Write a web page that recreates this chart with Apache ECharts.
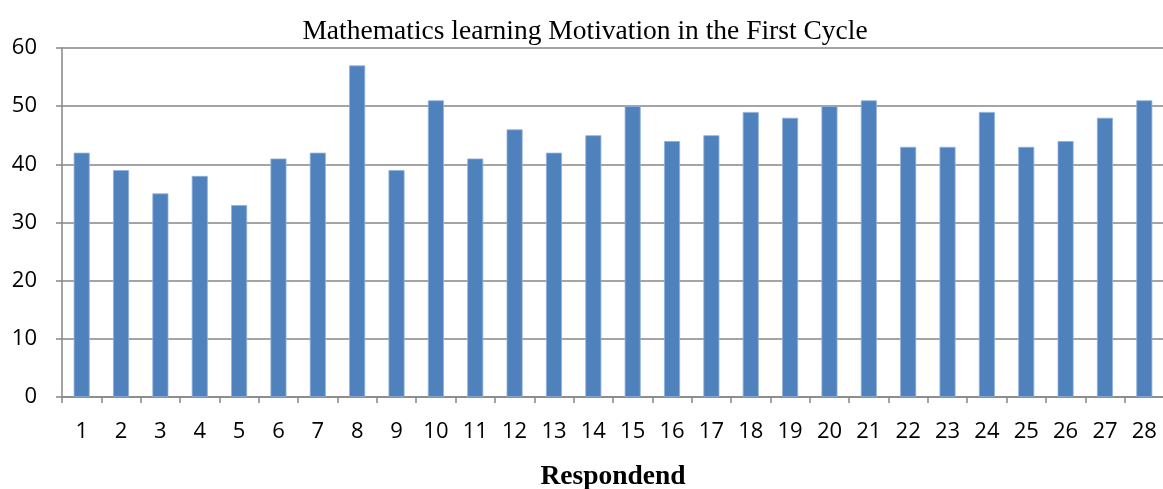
<!DOCTYPE html>
<html>
<head>
<meta charset="utf-8">
<script src="https://cdn.jsdelivr.net/npm/echarts@6/dist/echarts.min.js"></script>
<style>
  html, body { margin: 0; padding: 0; background: #fff; }
  #chart { width: 1163px; height: 489px; }
</style>
</head>
<body>
<div id="chart"></div>
<script>
const respondents = ["1", "2", "3", "4", "5", "6", "7", "8", "9", "10", "11", "12", "13", "14",
  "15", "16", "17", "18", "19", "20", "21", "22", "23", "24", "25", "26", "27", "28"];
const motivation = [42, 39, 35, 38, 33, 41, 42, 57, 39, 51, 41, 46, 42, 45,
  50, 44, 45, 49, 48, 50, 51, 43, 43, 49, 43, 44, 48, 51];

const chart = echarts.init(document.getElementById("chart"));

const option = {
  animation: false,
  title: {
    text: "Mathematics learning Motivation in the First Cycle",
    left: 580,
    textAlign: "center",
    top: 13,
    textStyle: {
      fontFamily: "Liberation Serif",
      fontSize: 27.5,
      fontWeight: "normal",
      color: "#000",
    },
  },
  grid: {
    left: 62,
    right: -1,
    top: 48,
    bottom: 92,
    containLabel: false,
    outerBoundsMode: "none",
  },
  xAxis: {
    type: "category",
    data: respondents,
    name: "Respondend",
    nameLocation: "middle",
    nameGap: 66,
    nameTextStyle: {
      fontFamily: "Liberation Serif",
      fontSize: 27.5,
      fontWeight: "bold",
      color: "#000",
    },
    axisLine: {
      lineStyle: { color: "#868686", width: 1.5 },
    },
    axisTick: {
      show: true,
      length: 6,
      lineStyle: { color: "#868686", width: 1.5 },
    },
    axisLabel: {
      color: "#000",
      fontFamily: "Open Sans",
      fontSize: 22,
      margin: 24,
      interval: 0,
    },
  },
  yAxis: {
    type: "value",
    min: 0,
    max: 60,
    interval: 10,
    axisLine: {
      show: true,
      lineStyle: { color: "#868686", width: 1.5 },
    },
    axisTick: {
      show: true,
      length: 6,
      lineStyle: { color: "#868686", width: 1.5 },
    },
    axisLabel: {
      color: "#000",
      fontFamily: "Open Sans",
      fontSize: 22,
      margin: 25,
    },
    splitLine: {
      lineStyle: { color: "#868686", width: 1.5 },
    },
  },
  series: [
    {
      type: "bar",
      data: motivation,
      barWidth: 16,
      itemStyle: {
        color: "#4F81BD",
        borderColor: "#8FB1DA",
        borderWidth: 0.8,
      },
    },
  ],
};

chart.setOption(option);
</script>
</body>
</html>
